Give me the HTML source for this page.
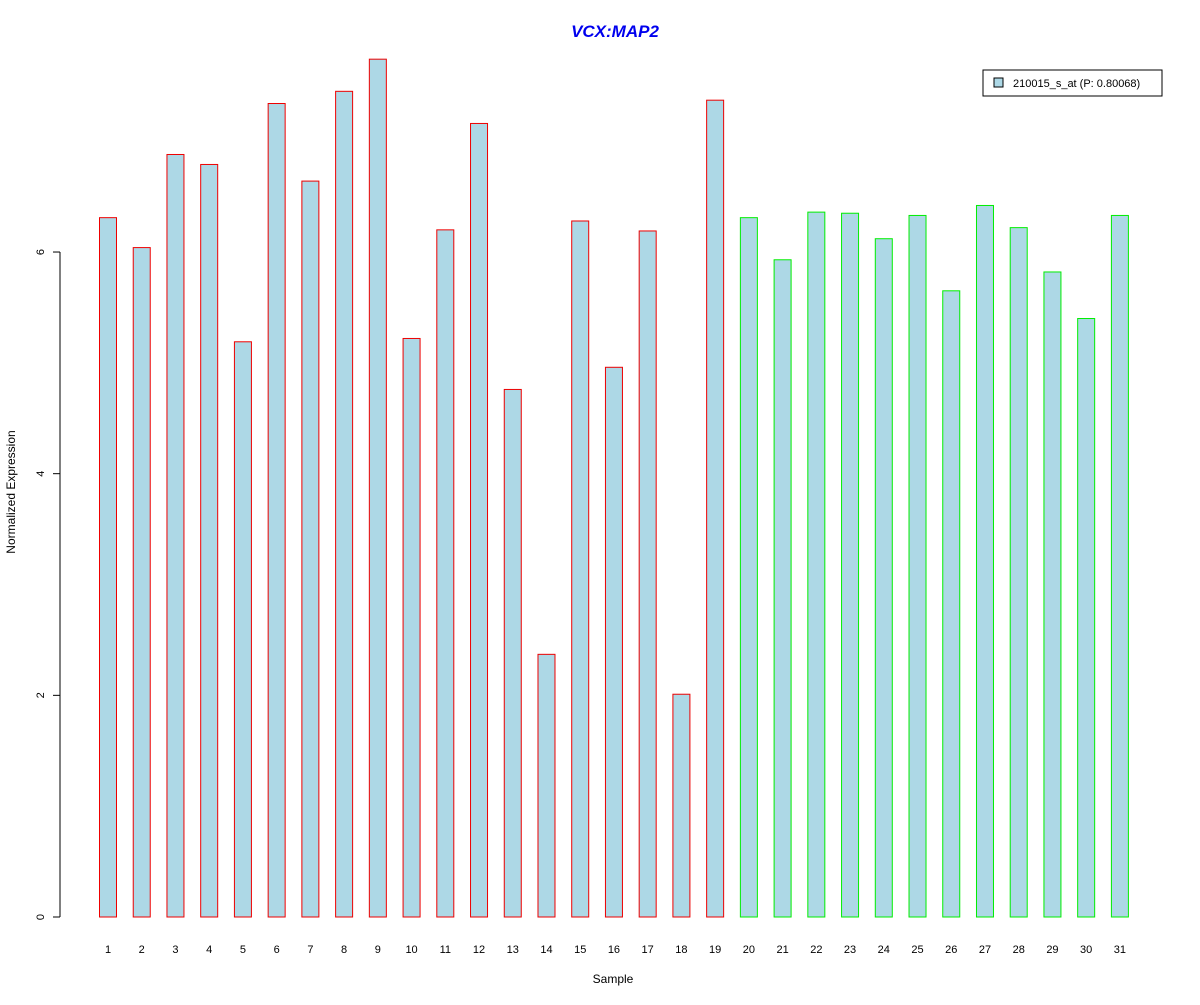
<!DOCTYPE html>
<html><head><meta charset="utf-8"><style>
body{margin:0;background:#fff}
svg text{font-family:"Liberation Sans",Arial,sans-serif}
</style></head><body>
<svg id="chart" width="1200" height="1000" xmlns="http://www.w3.org/2000/svg">
<rect width="1200" height="1000" fill="#fff"/>
<text x="615" y="37" text-anchor="middle" font-size="17" font-weight="bold" font-style="italic" fill="#0000ee">VCX:MAP2</text>
<text x="613" y="983" text-anchor="middle" font-size="12">Sample</text>
<text transform="translate(15,492) rotate(-90)" text-anchor="middle" font-size="12">Normalized Expression</text>
<g id="yaxis"></g>
<g id="bars"></g>
<g id="xlabels"></g>
<g>
<rect x="983" y="70" width="179" height="26" fill="#fff" stroke="#000"/>
<rect x="994" y="78" width="9" height="9" fill="#add8e6" stroke="#000"/>
<text x="1013" y="87" font-size="11">210015_s_at (P: 0.80068)</text>
</g>
</svg>
<script>
const categories=["1","2","3","4","5","6","7","8","9","10","11","12","13","14","15","16","17","18","19","20","21","22","23","24","25","26","27","28","29","30","31"];
const values=[6.31,6.04,6.88,6.79,5.19,7.34,6.64,7.45,7.74,5.22,6.20,7.16,4.76,2.37,6.28,4.96,6.19,2.01,7.37,6.31,5.93,6.36,6.35,6.12,6.33,5.65,6.42,6.22,5.82,5.40,6.33];
const groups=[0,0,0,0,0,0,0,0,0,0,0,0,0,0,0,0,0,0,0,1,1,1,1,1,1,1,1,1,1,1,1];
const yTicks=[0,2,4,6];
const NS="http://www.w3.org/2000/svg";
const y=v=>917-v*110.83;
const xc=i=>108+i*33.73;
const bw=17;
function mk(t,a,p){const e=document.createElementNS(NS,t);for(const k in a)e.setAttribute(k,a[k]);p.appendChild(e);return e;}
const ya=document.getElementById('yaxis');
const ax=mk('line',{x1:60,x2:60,y1:y(0),y2:y(6),stroke:'#000'},ya);


yTicks.forEach(t=>{
 const l=mk('line',{x1:53,x2:60,y1:y(t),y2:y(t),stroke:'#000'},ya);
 
 
 const tx=mk('text',{transform:`translate(44,${y(t)}) rotate(-90)`,'text-anchor':'middle','font-size':11},ya);
 tx.textContent=t;
 
 
});
const bg=document.getElementById('bars'),xl=document.getElementById('xlabels');
values.forEach((v,i)=>{
 const r=mk('rect',{x:xc(i)-bw/2,y:y(v),width:bw,height:y(0)-y(v),fill:'#add8e6',stroke:groups[i]?'#00ee00':'#ee0000'},bg);
 
 
 const t=mk('text',{x:xc(i),y:953,'text-anchor':'middle','font-size':11},xl);
 t.textContent=categories[i];
 
 
});
</script>
</body></html>
